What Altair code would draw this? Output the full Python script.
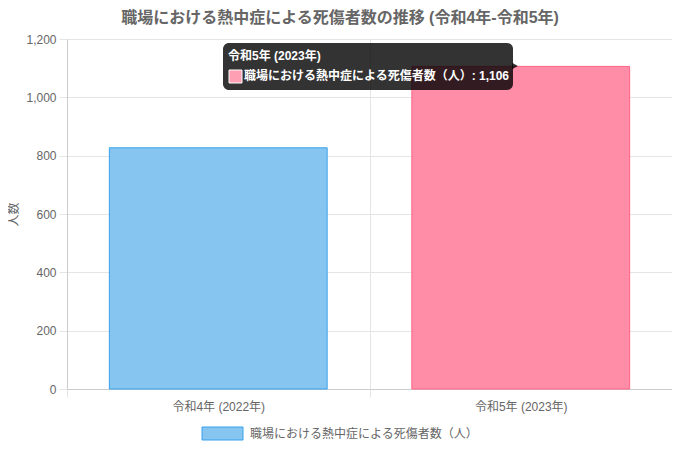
import altair as alt
import pandas as pd

# ---- data ----
categories = ["令和4年 (2022年)", "令和5年 (2023年)"]
values = [827, 1106]
fill_colors = ["#87C5F1", "#FF8DA7"]
stroke_colors = ["#36A2EB", "#FF6384"]
series_name = "職場における熱中症による死傷者数（人）"
title_text = "職場における熱中症による死傷者数の推移 (令和4年-令和5年)"
y_title = "人数"
y_ticks = [0, 200, 400, 600, 800, 1000, 1200]

df = pd.DataFrame({"period": categories, "count": values})
FONT = "Liberation Sans, Noto Sans CJK JP, sans-serif"
GRAY = "#666666"
one = alt.Data(values=[{}])
TX = -6  # tooltip horizontal shift

bars = alt.Chart(df).mark_bar(width=alt.RelativeBandSize(0.72), strokeWidth=1).encode(
    x=alt.X(
        "period:N",
        sort=categories,
        scale=alt.Scale(paddingInner=0, paddingOuter=0),
        axis=alt.Axis(
            title=None, tickBand="extent", labelAngle=0, labelPadding=4,
            tickSize=8, grid=True,
        ),
    ),
    y=alt.Y(
        "count:Q",
        scale=alt.Scale(domain=[0, 1200], nice=False),
        axis=alt.Axis(values=y_ticks, format=",d", title=y_title, tickSize=8,
                      labelPadding=3, titlePadding=5),
    ),
    fill=alt.Fill("period:N", scale=alt.Scale(domain=categories, range=fill_colors), legend=None),
    stroke=alt.Stroke("period:N", scale=alt.Scale(domain=categories, range=stroke_colors), legend=None),
)

title = alt.Chart(one).mark_text(
    text=title_text, font=FONT, fontSize=16, fontWeight="bold", color=GRAY,
    align="center", baseline="middle",
).encode(x=alt.value(273), y=alt.value(-21))

legend_box = alt.Chart(one).mark_rect(
    fill=fill_colors[0], stroke=stroke_colors[0], strokeWidth=1,
).encode(x=alt.value(135), x2=alt.value(176), y=alt.value(388), y2=alt.value(401))

legend_text = alt.Chart(one).mark_text(
    text=series_name, font=FONT, fontSize=12, color=GRAY, align="left", baseline="middle",
).encode(x=alt.value(183), y=alt.value(395))

tip_box = alt.Chart(one).mark_rect(
    fill="black", opacity=0.8, cornerRadius=6,
).encode(x=alt.value(162 + TX), x2=alt.value(452 + TX), y=alt.value(4), y2=alt.value(51))

tip_caret = alt.Chart(one).mark_point(
    shape="triangle-right", filled=True, fill="black", opacity=0.8, size=45, strokeWidth=0,
).encode(x=alt.value(454 + TX), y=alt.value(27))

tip_title = alt.Chart(one).mark_text(
    text=categories[1], font=FONT, fontSize=12, fontWeight="bold", color="white",
    align="left", baseline="middle",
).encode(x=alt.value(167 + TX), y=alt.value(17))

tip_swatch = alt.Chart(one).mark_rect(
    fill="#FF9FB3", stroke="white", strokeWidth=1,
).encode(x=alt.value(168 + TX), x2=alt.value(181 + TX), y=alt.value(31), y2=alt.value(44))

tip_body = alt.Chart(one).mark_text(
    text=f"{series_name}: {values[1]:,}", font=FONT, fontSize=12, fontWeight="bold",
    color="white", align="left", baseline="middle",
).encode(x=alt.value(183 + TX), y=alt.value(37))

chart = alt.layer(
    bars, title, legend_box, legend_text, tip_box, tip_caret, tip_title, tip_swatch, tip_body
).properties(
    width=605, height=350,
    autosize=alt.AutoSizeParams(type="none"),
    padding={"left": 59, "top": 31, "right": 0, "bottom": 53},
).configure_view(stroke=None).configure_axis(
    labelFont=FONT, titleFont=FONT, labelFontSize=12, titleFontSize=12,
    labelColor=GRAY, titleColor=GRAY, titleFontWeight="normal",
    gridColor="#e5e5e5", tickColor="#e5e5e5", domainColor="#cccccc",
)

chart.save("out.html", embed_options={"renderer": "svg", "actions": False})
